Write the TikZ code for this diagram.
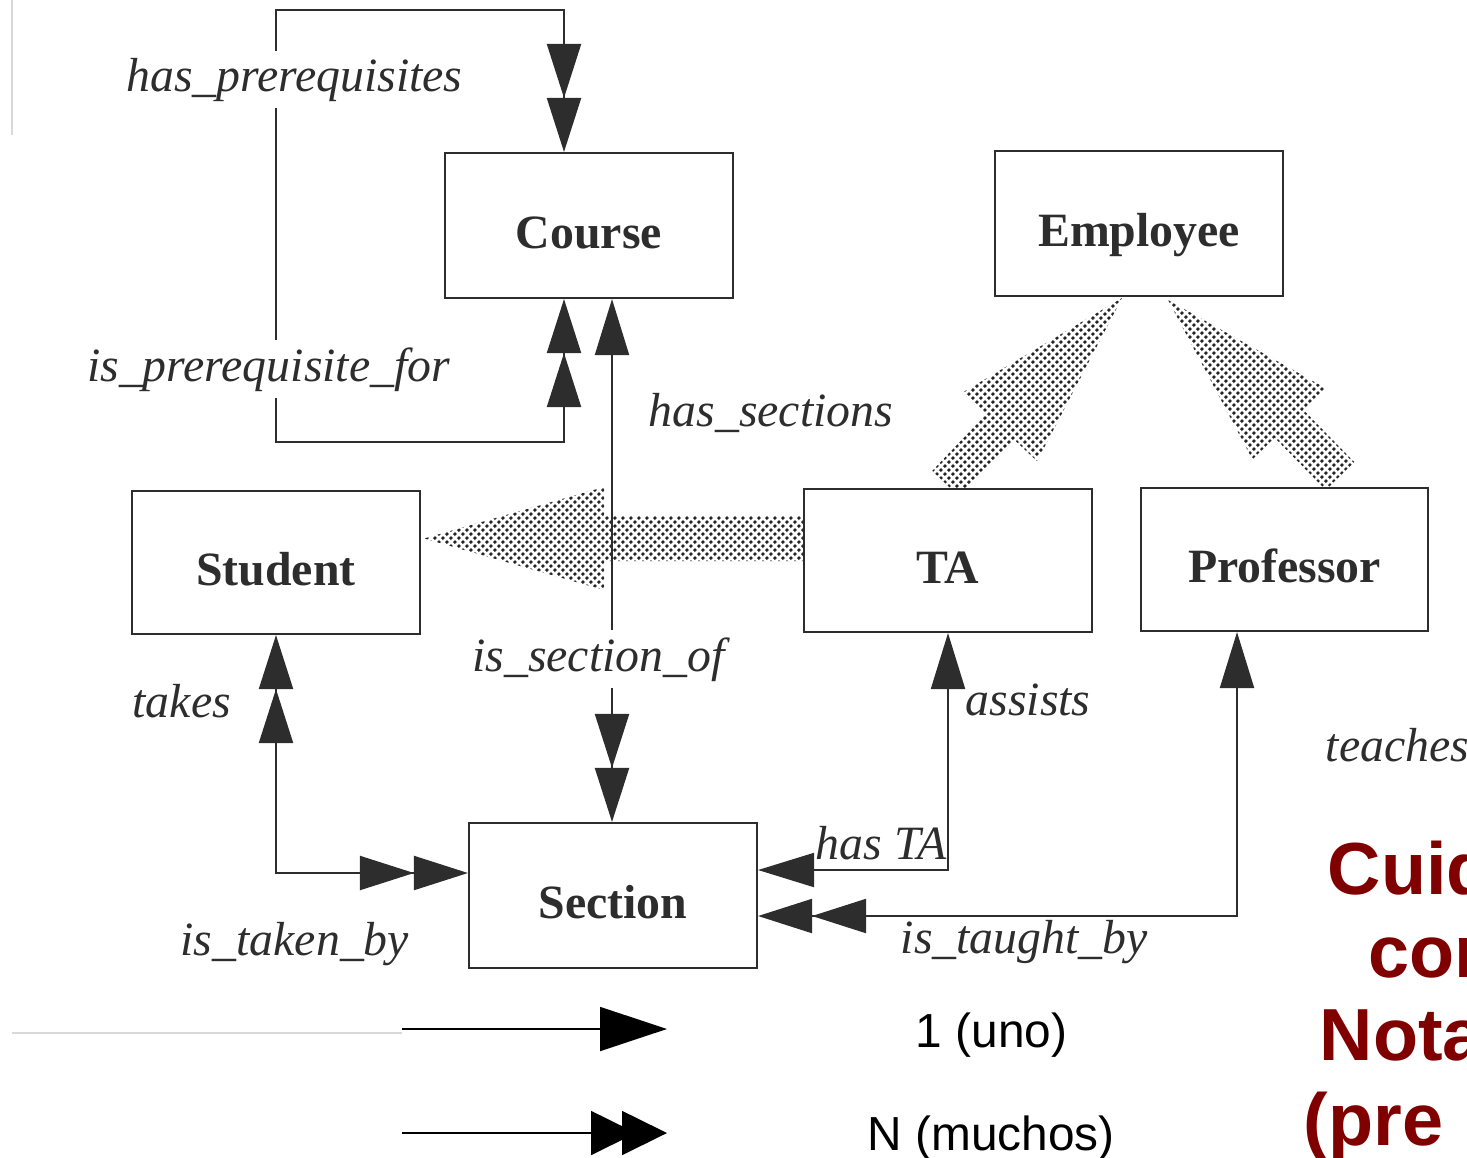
\documentclass[tikz,border=0pt]{standalone}
\usepackage{fontspec}
\setmainfont{Liberation Serif}
\newfontfamily\legendfont{Liberation Sans}
\usetikzlibrary{arrows.meta,calc,patterns.meta}

% dotted screen used for the inheritance arrows
\pgfdeclarepattern{
  name=isadots, type=uncolored,
  bottom left={\pgfpoint{0pt}{0pt}}, top right={\pgfpoint{2.4pt}{2.4pt}},
  tile size={\pgfpoint{2.4pt}{2.4pt}},
  code={\pgfpathcircle{\pgfpoint{0.6pt}{0.6pt}}{0.6pt}%
        \pgfpathcircle{\pgfpoint{1.8pt}{1.8pt}}{0.6pt}%
        \pgfusepath{fill}}}

\definecolor{ink}{RGB}{45,45,45}
\definecolor{warnred}{RGB}{128,0,0}

\tikzset{
  entity/.style={draw=ink, line width=0.6pt, fill=white, minimum width=2.88cm,
    minimum height=1.45cm, inner sep=0pt, text height=0.46cm, text depth=0pt,
    font=\fontsize{13.6}{16}\selectfont\bfseries, text=ink},
  rel/.style={font=\fontsize{13.6}{16}\selectfont\itshape, text=ink, inner sep=0pt, anchor=base west},
  relgap/.style={rel, fill=white, inner xsep=1pt, inner ysep=2pt},
  link/.style={draw=ink, line width=0.6pt},
  isa/.style={pattern=isadots, pattern color=black!85},
  one/.tip={Triangle[length=5.6mm,width=3.4mm]},
  many/.tip={Triangle[length=5.4mm,width=3.4mm,sep=0pt]Triangle[length=5.4mm,width=3.4mm]},
  legendline/.style={draw=black, line width=0.5pt},
  legendtxt/.style={font=\legendfont\fontsize{13.6}{16}\selectfont, inner sep=0pt, anchor=base west},
  warn/.style={font=\legendfont\fontsize{21}{24}\selectfont\bfseries, text=warnred, inner sep=0pt, anchor=base west},
}

% wide inheritance arrow: tail, tip, shaft half width, head length, head half width
\newcommand{\isaarrow}[5]{%
  \coordinate (hb) at ($(#2)!#4!(#1)$);
  \fill[isa] ($(#1)!#3!90:(#2)$) -- ($(hb)!#3!90:(#2)$) -- ($(hb)!#5!90:(#2)$) -- (#2)
    -- ($(hb)!#5!-90:(#2)$) -- ($(hb)!#3!-90:(#2)$) -- ($(#1)!#3!-90:(#2)$) -- cycle;}

\begin{document}
\begin{tikzpicture}
\useasboundingbox (0,0) rectangle (14.67,-11.57);

% faint scan marks
\draw[gray!30, line width=0.5pt] (0.12,0) -- (0.12,-1.35);
\coordinate (fa) at (0.12,-10.33);
\coordinate (fb) at (4.02,-10.33);
\draw[gray!30, line width=0.6pt] (fa) -- (fb);

% inheritance arrows
\coordinate (isaTAs) at (8.10,-5.385);
\coordinate (isaTAt) at (4.24,-5.385);
\isaarrow{isaTAs}{isaTAt}{0.225cm}{1.80cm}{0.515cm}
\coordinate (isaTEs) at (9.46,-4.84);
\coordinate (isaTEt) at (11.22,-2.98);
\isaarrow{isaTEs}{isaTEt}{0.19cm}{1.77cm}{0.505cm}
\coordinate (isaPEs) at (13.40,-4.76);
\coordinate (isaPEt) at (11.68,-3.00);
\isaarrow{isaPEs}{isaPEt}{0.20cm}{1.73cm}{0.51cm}

% entities
\node[entity] (course)   at (5.89,-2.255)  {Course};
\node[entity] (employee) at (11.39,-2.235) {Employee};
\node[entity, minimum height=1.43cm] (student) at (2.76,-5.625) {Student};
\node[entity, minimum height=1.43cm] (ta)      at (9.48,-5.605) {TA};
\node[entity, minimum height=1.43cm, minimum width=2.87cm] (prof) at (12.845,-5.595) {Professor};
\node[entity] (section)  at (6.13,-8.955)  {Section};

% prerequisite loop on Course
\coordinate (preRT) at (5.64,-0.10);
\coordinate (preLT) at (2.76,-0.10);
\coordinate (preLB) at (2.76,-4.42);
\coordinate (preRB) at (5.64,-4.42);
\draw[link, {many}-{many}] (course.south -| preRB) -- (preRB) -- (preLB) -- (preLT) -- (preRT) -- (course.north -| preRT);

% Course -- Section
\coordinate (secx) at (6.12,-5.6);
\draw[link, {one}-{many}] (course.south -| secx) -- (section.north -| secx);

% Student -- Section
\coordinate (tkc) at (2.76,-8.73);
\draw[link, {many}-{many}] (student.south) -- (tkc) -- (tkc -| section.west);

% TA -- Section
\coordinate (asc) at (9.48,-8.70);
\draw[link, {one}-{one}] (ta.south) -- (asc) -- (asc -| section.east);

% Professor -- Section
\coordinate (tec) at (12.37,-9.16);
\draw[link, {one}-{many}] (prof.south -| tec) -- (tec) -- (tec -| section.east);

% relationship names
\node[relgap] (lhp)  at (1.22,-0.91) {has\_prerequisites};
\node[relgap] (lipf) at (0.83,-3.81) {is\_prerequisite\_for};
\node[rel]    (lhs)  at (6.48,-4.26) {has\_sections};
\node[relgap] (liso) at (4.68,-6.71) {is\_section\_of};
\node[rel]    (ltk)  at (1.32,-7.17) {takes};
\node[rel]    (las)  at (9.65,-7.15) {assists};
\node[rel]    (lte)  at (13.25,-7.61) {teaches};
\node[rel]    (lhta) at (8.15,-8.59) {has TA};
\node[rel]    (litk) at (1.80,-9.55) {is\_taken\_by};
\node[rel]    (lita) at (9.00,-9.53) {is\_taught\_by};

% legend
\coordinate (l1a) at (4.02,-10.29);
\coordinate (l1b) at (6.67,-10.29);
\coordinate (l2a) at (4.02,-11.33);
\coordinate (l2b) at (6.67,-11.33);
\draw[legendline, -{Triangle[length=6.7mm,width=4.4mm]}] (l1a) -- (l1b);
\draw[legendline, -{Triangle[length=4.5mm,width=4.4mm,sep=-1.4mm]Triangle[length=4.5mm,width=4.4mm]}] (l2a) -- (l2b);
\node[legendtxt] (uno) at (9.15,-10.47) {1 (uno)};
\node[legendtxt] (muchos) at (8.67,-11.50) {N (muchos)};

% warning note
\node[warn] (w1) at (13.27,-8.94) {Cuid};
\node[warn] (w2) at (13.68,-9.77) {con};
\node[warn] (w3) at (13.19,-10.60) {Nota};
\node[warn] (w4) at (13.03,-11.45) {(pre};
\end{tikzpicture}
\end{document}
